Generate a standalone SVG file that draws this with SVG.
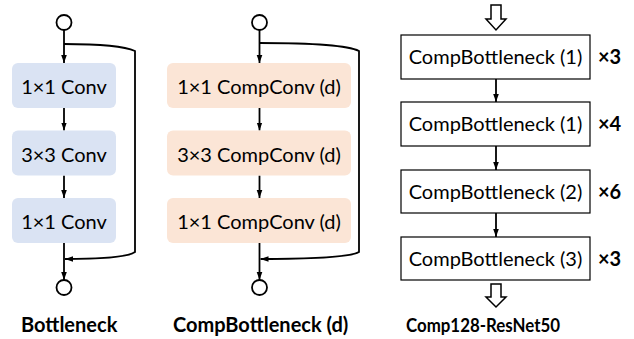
<svg xmlns="http://www.w3.org/2000/svg" width="634" height="339" viewBox="0 0 634 339">
<style>
.t{font-family:Lato,"Liberation Sans",sans-serif;font-size:20px;fill:#000;text-anchor:middle}
.b{font-family:Lato,"Liberation Sans",sans-serif;font-size:20px;font-weight:bold;fill:#000}
.blue{fill:#dae3f3}
.peach{fill:#fbe5d6}
.box{fill:#fff;stroke:#000;stroke-width:1.2}
.ln{fill:none;stroke:#000;stroke-width:1.8}
.io{fill:#fff;stroke:#000;stroke-width:1.8}
.hol{fill:#fff;stroke:#000;stroke-width:1.5;stroke-linejoin:miter}
</style>
<defs>
<marker id="ah" viewBox="0 0 10 10" refX="10" refY="5" markerWidth="8" markerHeight="8" markerUnits="userSpaceOnUse" orient="auto">
<path d="M0,1.5 L10,5 L0,8.5 z" fill="#000"/>
</marker>
</defs>

<g id="connectors">
<line class="ln" x1="64" y1="30" x2="64" y2="63" marker-end="url(#ah)"/>
<line class="ln" x1="64" y1="108" x2="64" y2="130.5" marker-end="url(#ah)"/>
<line class="ln" x1="64" y1="175.5" x2="64" y2="198" marker-end="url(#ah)"/>
<line class="ln" x1="64" y1="243" x2="64" y2="280" marker-end="url(#ah)"/>
<path class="ln" d="M64,44 C95,44 122,45 135,51 L135,252 C128,257 100,259 65,259" marker-end="url(#ah)"/>
<line class="ln" x1="259.5" y1="30" x2="259.5" y2="63" marker-end="url(#ah)"/>
<line class="ln" x1="259.5" y1="108" x2="259.5" y2="130.5" marker-end="url(#ah)"/>
<line class="ln" x1="259.5" y1="175.5" x2="259.5" y2="198" marker-end="url(#ah)"/>
<line class="ln" x1="259.5" y1="243" x2="259.5" y2="280" marker-end="url(#ah)"/>
<path class="ln" d="M259.5,43 C300,43 345,44 359,51 L359,252 C350,257 310,259 260.5,259" marker-end="url(#ah)"/>
<path class="hol" d="M491,5 L501,5 L501,19 L506,19 L496,30 L486,19 L491,19 Z"/>
<line class="ln" x1="496" y1="79" x2="496" y2="102" marker-end="url(#ah)"/>
<line class="ln" x1="496" y1="146" x2="496" y2="170" marker-end="url(#ah)"/>
<line class="ln" x1="496" y1="213" x2="496" y2="237" marker-end="url(#ah)"/>
<path class="hol" d="M491,284 L501,284 L501,297 L506,297 L496,307 L486,297 L491,297 Z"/>
</g>

<g id="bottleneck">
<ellipse class="io" cx="64" cy="22.5" rx="7.5" ry="7.5"/>
<rect class="blue" x="12" y="63" width="104" height="45" rx="6"/>
<text class="t" x="64" y="94">1×1 Conv</text>
<rect class="blue" x="12" y="130.5" width="104" height="45" rx="6"/>
<text class="t" x="64" y="161.5">3×3 Conv</text>
<rect class="blue" x="12" y="198" width="104" height="45" rx="6"/>
<text class="t" x="64" y="229">1×1 Conv</text>
<ellipse class="io" cx="64" cy="287.5" rx="7.5" ry="7.5"/>
<text class="b" x="21" y="332">Bottleneck</text>
</g>

<g id="compbottleneck">
<ellipse class="io" cx="259.5" cy="22.5" rx="7.5" ry="7.5"/>
<rect class="peach" x="167" y="63" width="184" height="45" rx="6"/>
<text class="t" x="259" y="94">1×1 CompConv (d)</text>
<rect class="peach" x="167" y="130.5" width="184" height="45" rx="6"/>
<text class="t" x="259" y="161.5">3×3 CompConv (d)</text>
<rect class="peach" x="167" y="198" width="184" height="45" rx="6"/>
<text class="t" x="259" y="229">1×1 CompConv (d)</text>
<ellipse class="io" cx="259.5" cy="287.5" rx="7.5" ry="7.5"/>
<text class="b" x="173" y="332">CompBottleneck (d)</text>
</g>

<g id="resnet">
<rect class="box" x="401" y="35" width="189" height="44"/>
<text class="t" x="495.5" y="64">CompBottleneck (1)</text>
<text class="b" x="598" y="64">×3</text>
<rect class="box" x="401" y="102" width="189" height="44"/>
<text class="t" x="495.5" y="131">CompBottleneck (1)</text>
<text class="b" x="598" y="131">×4</text>
<rect class="box" x="401" y="170" width="189" height="43"/>
<text class="t" x="495.5" y="198.5">CompBottleneck (2)</text>
<text class="b" x="598" y="198.5">×6</text>
<rect class="box" x="401" y="237" width="189" height="43"/>
<text class="t" x="495.5" y="265.5">CompBottleneck (3)</text>
<text class="b" x="598" y="265.5">×3</text>
<text class="b" x="406" y="332" style="font-size:19.5px" textLength="154" lengthAdjust="spacingAndGlyphs">Comp128-ResNet50</text>
</g>
</svg>
